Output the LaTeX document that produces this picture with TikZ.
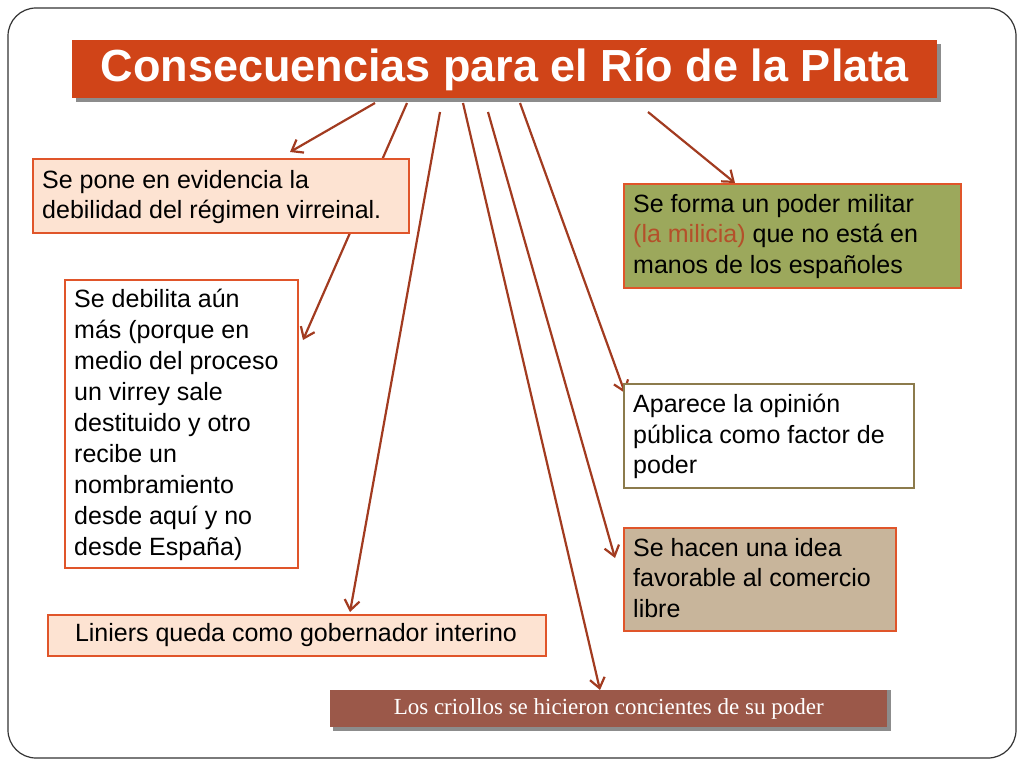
\documentclass[tikz,border=0pt]{standalone}
\usepackage{fontspec}
\setmainfont{Liberation Sans}
\newfontfamily\serifb{Liberation Serif}
\usetikzlibrary{arrows.meta}
\definecolor{arr}{HTML}{A23B20}
\definecolor{tit}{HTML}{D04418}
\definecolor{ora}{HTML}{E0552A}
\definecolor{peach}{HTML}{FDE3D2}
\definecolor{olive}{HTML}{9CA85C}
\definecolor{tan}{HTML}{C8B59B}
\definecolor{brn}{HTML}{8C7B4C}
\definecolor{crio}{HTML}{9B5849}
\definecolor{mil}{HTML}{B4502A}
\tikzset{
 conn/.style={draw=arr,line width=2.2pt,-{Straight Barb[length=10pt,width=15pt]}},
 box/.style={draw=ora,line width=2.2pt,anchor=north west,inner sep=0pt},
 txt/.style={anchor=north west,align=left,inner sep=0pt,font=\fontsize{25}{30.5}\selectfont},
}
\begin{document}
\begin{tikzpicture}[x=1pt,y=-1pt]
\useasboundingbox (0,0) rectangle (1024,768);
\draw[line width=1.2pt,black!80,rounded corners=28pt] (8,8) rectangle (1016,758);
% title
\fill[black!45] (76,44) rectangle (941,102);
\node[fill=tit,minimum width=865pt,minimum height=58pt,anchor=north west,inner sep=0pt,text=white,font=\fontsize{45}{50}\selectfont\bfseries] (title) at (72,40) {Consecuencias para el Río de la Plata};
% arrow starts
\coordinate (s1) at (375,103); \coordinate (e1) at (290,152);
\coordinate (s2) at (407,103); \coordinate (e2) at (303,340);
\coordinate (s3) at (440,112); \coordinate (e3) at (350,612);
\coordinate (s4) at (463,103); \coordinate (e4) at (600,690);
\coordinate (s5) at (488,112); \coordinate (e5) at (615,558);
\coordinate (s6) at (520,103); \coordinate (e6) at (625,393);
\coordinate (s7) at (648,112); \coordinate (e7) at (735,183);
\foreach \i in {1,...,7} \draw[conn] (s\i) -- (e\i);
% boxes
\node[box,fill=peach,minimum width=376pt,minimum height=74pt] (b1) at (32,158) {};
\node[txt] (t1) at (42,170) {Se pone en evidencia la\\debilidad del régimen virreinal.};
\node[box,fill=white,minimum width=233pt,minimum height=288pt] (b2) at (64,279) {};
\node[txt,font=\fontsize{25}{31}\selectfont] (t2) at (74,289) {Se debilita aún\\más (porque en\\medio del proceso\\un virrey sale\\destituido y otro\\recibe un\\nombramiento\\desde aquí y no\\desde España)};
\node[box,fill=peach,minimum width=498pt,minimum height=41pt] (b3) at (47,614) {};
\node[font=\fontsize{25}{28}\selectfont,inner sep=0pt] (t3) at (296,635) {Liniers queda como gobernador interino};
\node[box,fill=olive,minimum width=337pt,minimum height=104pt] (b4) at (623,183) {};
\node[txt] (t4) at (633,194) {Se forma un poder militar\\{\color{mil}(la milicia)} que no está en\\manos de los españoles};
\node[box,draw=brn,fill=white,minimum width=290pt,minimum height=104pt] (b5) at (623,383) {};
\node[txt] (t5) at (633,394) {Aparece la opinión\\pública como factor de\\poder};
\node[box,fill=tan,minimum width=272pt,minimum height=103pt] (b6) at (623,527) {};
\node[txt] (t6) at (633,538) {Se hacen una idea\\favorable al comercio\\libre};
\fill[black!45] (333,690) rectangle (891,731);
\node[fill=crio,minimum width=557pt,minimum height=37pt,anchor=north west,inner sep=0pt,text=white,font=\serifb\fontsize{23}{25}\selectfont] (b7) at (330,690) {Los criollos se hicieron concientes de su poder};
\end{tikzpicture}
\end{document}
